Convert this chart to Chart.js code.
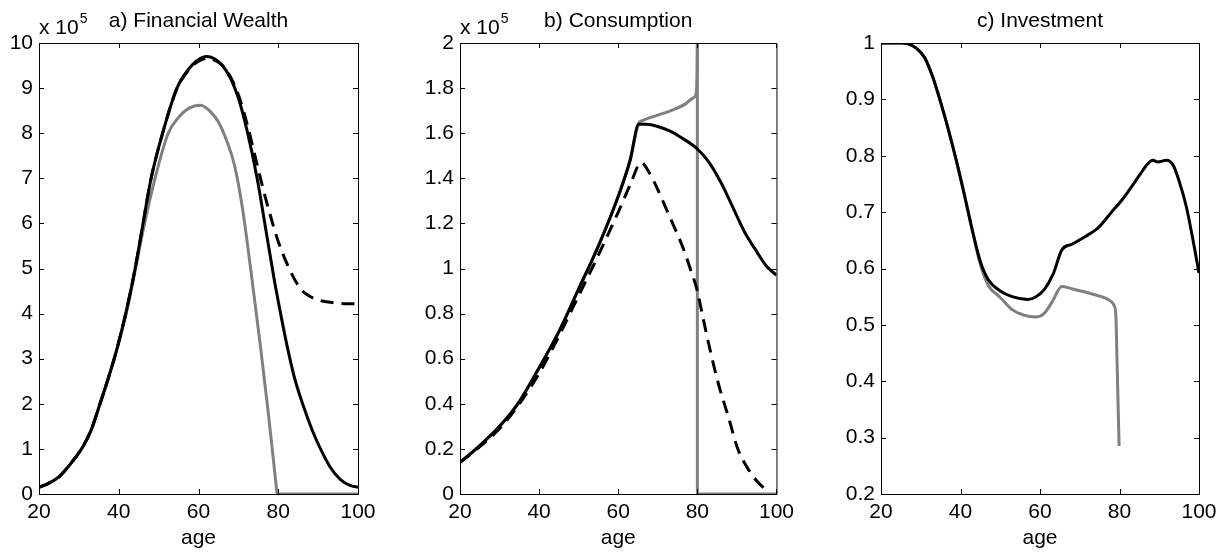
<!DOCTYPE html>
<html>
<head>
<meta charset="utf-8">
<script src="https://cdn.jsdelivr.net/npm/chart.js@4.4.1/dist/chart.umd.min.js"></script>
<style>
html, body { margin: 0; padding: 0; background: #fff; }
#wrap { position: relative; width: 1227px; height: 553px; overflow: hidden; }
canvas { position: absolute; top: 0; }
</style>
</head>
<body>
<div id="wrap">
<canvas id="wealthChart" width="400" height="553" style="left:0px"></canvas>
<canvas id="consChart" width="400" height="553" style="left:400px"></canvas>
<canvas id="investChart" width="407" height="553" style="left:820px"></canvas>
</div>
<script>
// tick labels
const xTicks = [20, 40, 60, 80, 100];
const yTicksA = [0, 1, 2, 3, 4, 5, 6, 7, 8, 9, 10];
const yTicksB = [0, 0.2, 0.4, 0.6, 0.8, 1, 1.2, 1.4, 1.6, 1.8, 2];
const yTicksC = [0.2, 0.3, 0.4, 0.5, 0.6, 0.7, 0.8, 0.9, 1];

// a) financial wealth (x 10^5)
const ageA = [20, 22, 25, 28, 31, 33, 35.3, 37.5, 39.5, 42, 44, 46, 48, 51, 54.6, 56.5, 58.5, 60.5, 62, 64, 66, 68, 70, 72.2, 74.7, 77, 79, 80.7, 82.3, 84, 86.3, 88.5, 90.6, 93, 95.6, 98, 100];
const wealthBase = [0.15, 0.22, 0.38, 0.68, 1.05, 1.4, 2.0, 2.6, 3.2, 4.1, 4.95, 5.95, 6.95, 8.0, 9.0, 9.3, 9.52, 9.66, 9.7, 9.65, 9.5, 9.22, 8.78, 8.05, 7.0, 5.8, 4.75, 3.95, 3.25, 2.6, 1.95, 1.42, 1.0, 0.6, 0.32, 0.19, 0.15];
const ageAdash = [20, 22, 25, 28, 31, 33, 35.3, 37.5, 39.5, 42, 44, 46, 48, 51, 54.6, 56.5, 58.5, 60.5, 62, 64, 66, 68, 70, 72.2, 74.7, 77, 80, 83, 85.6, 88, 91, 94, 97, 100];
const wealthDash = [0.15, 0.22, 0.38, 0.68, 1.05, 1.4, 2.0, 2.6, 3.2, 4.1, 4.95, 5.95, 6.95, 8.0, 9.0, 9.28, 9.5, 9.62, 9.66, 9.62, 9.5, 9.25, 8.85, 8.2, 7.3, 6.5, 5.6, 4.95, 4.55, 4.38, 4.28, 4.24, 4.22, 4.22];
const ageAgray = [20, 22, 25, 28, 31, 33, 35.3, 37.5, 39.5, 42, 44, 46, 49.1, 52.4, 55, 57.5, 60.5, 63, 65, 67, 69, 71, 73, 75.5, 77.5, 79.7];
const wealthGray = [0.15, 0.22, 0.38, 0.68, 1.05, 1.4, 2.0, 2.6, 3.2, 4.05, 4.9, 5.8, 7.0, 8.0, 8.35, 8.55, 8.62, 8.48, 8.25, 7.85, 7.3, 6.35, 5.05, 3.3, 1.8, 0];
const ageAgrayEnd = [79.7, 100];
const wealthGrayEnd = [0, 0];

// b) consumption (x 10^5)
const ageB = [20, 25, 30, 35, 40, 45, 50, 55, 60, 63, 65.2, 67, 70, 73, 76, 80, 83, 86, 89, 92, 95, 97.5, 100];
const consBase = [0.14, 0.215, 0.3, 0.41, 0.56, 0.72, 0.91, 1.1, 1.32, 1.48, 1.64, 1.64, 1.63, 1.61, 1.58, 1.53, 1.47, 1.38, 1.27, 1.16, 1.075, 1.01, 0.97];
const ageBgray = [20, 25, 30, 35, 40, 45, 50, 55, 60, 63, 65.2, 66, 70, 74, 77, 78.8, 79.6, 79.9, 80];
const consGray = [0.14, 0.215, 0.3, 0.41, 0.56, 0.72, 0.91, 1.1, 1.32, 1.48, 1.645, 1.655, 1.68, 1.705, 1.73, 1.755, 1.77, 1.85, 2.0];
const ageBgrayEnd = [80, 80, 100];
const consGrayEnd = [2.0, 0, 0];
const ageBdash = [20, 25, 30, 35, 40, 45, 50, 55, 60, 63, 65.8, 68, 70, 72, 74, 76.2, 78, 80, 81.2, 83.2, 85.3, 87.8, 90.3, 92, 94, 96.3, 98];
const consDash = [0.14, 0.21, 0.29, 0.4, 0.535, 0.7, 0.88, 1.06, 1.25, 1.37, 1.47, 1.42, 1.35, 1.27, 1.19, 1.1, 1.01, 0.9, 0.8, 0.64, 0.49, 0.344, 0.196, 0.135, 0.08, 0.035, 0.015];

// c) investment
const ageC = [20, 25, 27, 29, 31, 33, 35, 37, 39, 41, 43, 45, 47, 50, 53, 56.9, 59, 61, 63.3, 65.5, 68, 71, 74.6, 78, 81, 85, 87, 88.4, 89.6, 91.8, 93.5, 95, 96.8, 98.5, 100];
const investBase = [1.0, 1.0, 0.998, 0.99, 0.974, 0.94, 0.895, 0.845, 0.79, 0.73, 0.667, 0.612, 0.58, 0.56, 0.55, 0.545, 0.55, 0.562, 0.59, 0.633, 0.643, 0.655, 0.672, 0.7, 0.725, 0.765, 0.785, 0.792, 0.789, 0.792, 0.783, 0.755, 0.71, 0.65, 0.592];
const ageCgray = [20, 25, 27, 29, 31, 33, 35, 37, 39, 41, 43, 45, 47, 49.8, 53, 56, 58.9, 61, 63, 65.5, 68, 72, 75, 77.6, 78.6, 79.1, 79.3, 79.9];
const investGray = [1.0, 1.0, 0.998, 0.99, 0.974, 0.94, 0.895, 0.845, 0.79, 0.73, 0.667, 0.607, 0.57, 0.55, 0.527, 0.517, 0.514, 0.52, 0.54, 0.568, 0.564, 0.557, 0.551, 0.543, 0.535, 0.515, 0.46, 0.285];

const fontFamily = "'Liberation Sans', Arial, Helvetica, sans-serif";
const fontSize = 21;
Chart.defaults.font.family = fontFamily;
Chart.defaults.font.size = fontSize;
Chart.defaults.color = '#000';

function pts(xs, ys) {
    return xs.map((x, i) => ({ x: x, y: ys[i] }));
}

function line(xs, ys, color, dashed, smooth) {
    return {
        data: pts(xs, ys),
        borderColor: color,
        borderWidth: 3,
        borderDash: dashed ? [13, 8] : [],
        borderCapStyle: 'butt',
        pointRadius: 0,
        cubicInterpolationMode: smooth ? 'monotone' : 'default',
        tension: 0
    };
}

// MATLAB style box with inward ticks, title and exponent label
const matlabBox = {
    id: 'matlabBox',
    afterDraw(chart, args, opts) {
        const { ctx, chartArea: a, scales } = chart;
        ctx.save();
        ctx.strokeStyle = '#000';
        ctx.lineWidth = 1;
        ctx.beginPath();
        ctx.rect(a.left + 0.5, a.top + 0.5, a.right - a.left, a.bottom - a.top);
        scales.x.ticks.forEach(t => {
            const px = Math.round(scales.x.getPixelForValue(t.value)) + 0.5;
            ctx.moveTo(px, a.bottom); ctx.lineTo(px, a.bottom - 5);
            ctx.moveTo(px, a.top); ctx.lineTo(px, a.top + 5);
        });
        scales.y.ticks.forEach(t => {
            const py = Math.round(scales.y.getPixelForValue(t.value)) + 0.5;
            ctx.moveTo(a.left, py); ctx.lineTo(a.left + 5, py);
            ctx.moveTo(a.right, py); ctx.lineTo(a.right - 5, py);
        });
        ctx.stroke();

        ctx.fillStyle = '#000';
        ctx.font = fontSize + 'px ' + fontFamily;
        ctx.textAlign = 'center';
        ctx.textBaseline = 'alphabetic';
        ctx.fillText(opts.title, (a.left + a.right) / 2, 27);
        if (opts.exponent) {
            ctx.textAlign = 'left';
            ctx.fillText('x 10', a.left, 33.5);
            const w = ctx.measureText('x 10').width;
            ctx.font = '14px ' + fontFamily;
            ctx.fillText(opts.exponent, a.left + w + 1, 23);
        }
        ctx.restore();
    }
};

function makeChart(id, datasets, yTicks, yAxisWidth, padRight, title, exponent) {
    return new Chart(document.getElementById(id).getContext('2d'), {
        type: 'line',
        data: { datasets: datasets },
        plugins: [matlabBox],
        options: {
            responsive: false,
            animation: false,
            layout: { padding: { top: 43, right: padRight, bottom: 0, left: 0 } },
            plugins: {
                legend: { display: false },
                tooltip: { enabled: false },
                matlabBox: { title: title, exponent: exponent }
            },
            scales: {
                x: {
                    type: 'linear',
                    min: 20,
                    max: 100,
                    grid: { display: false, drawTicks: false },
                    border: { display: false },
                    afterBuildTicks: s => { s.ticks = xTicks.map(v => ({ value: v })); },
                    afterFit: s => { s.height = 59; },
                    ticks: { padding: 6, maxRotation: 0, autoSkip: false, callback: v => String(v) },
                    title: { display: true, text: 'age', padding: { top: 0, bottom: 2 } }
                },
                y: {
                    min: yTicks[0],
                    max: yTicks[yTicks.length - 1],
                    grid: { display: false, drawTicks: false },
                    border: { display: false },
                    afterBuildTicks: s => { s.ticks = yTicks.map(v => ({ value: v })); },
                    afterFit: s => { s.width = yAxisWidth; },
                    ticks: { padding: 6, autoSkip: false, callback: v => String(Math.round(v * 10) / 10) }
                }
            }
        }
    });
}

const gray = '#808080';
const black = '#000000';

// black datasets first so they are painted on top
makeChart('wealthChart', [
    line(ageA, wealthBase, black, false, true),
    line(ageAdash, wealthDash, black, true, true),
    line(ageAgray, wealthGray, gray, false, true),
    line(ageAgrayEnd, wealthGrayEnd, gray, false, false)
], yTicksA, 39, 42, 'a) Financial Wealth', '5');

makeChart('consChart', [
    line(ageB, consBase, black, false, true),
    line(ageBdash, consDash, black, true, true),
    line(ageBgray, consGray, gray, false, true),
    line(ageBgrayEnd, consGrayEnd, gray, false, false)
], yTicksB, 60, 21, 'b) Consumption', '5');

makeChart('investChart', [
    line(ageC, investBase, black, false, true),
    line(ageCgray, investGray, gray, false, true)
], yTicksC, 61, 28, 'c) Investment', null);
</script>
</body>
</html>
